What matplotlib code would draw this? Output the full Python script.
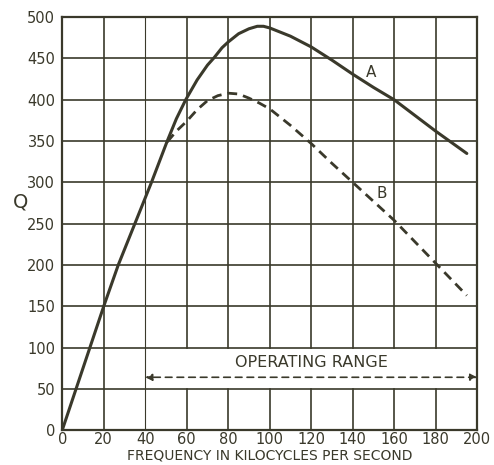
import numpy as np
import matplotlib.pyplot as plt

# curve A (solid) and curve B (dashed)
freq_a = [0, 20, 27, 35, 43, 50.6, 55, 59.5, 65, 70, 73.2, 77, 80, 85, 90,
          94, 97, 100, 110, 120, 130, 140, 150, 160, 170, 180, 195]
q_a = [0, 150, 200, 250, 300, 350, 377, 400, 424, 442, 451, 463, 470, 480, 486,
       489, 489, 487, 477, 464, 448, 431, 415, 400, 381, 362, 335]
freq_b = [50.6, 55, 60, 65, 70, 75, 80, 85, 90, 95, 100, 110, 120, 130, 140, 150, 160, 170, 180, 195]
q_b = [349, 362, 374, 388, 399, 405, 408, 407, 402, 396, 389, 369, 347, 323, 300, 277, 254, 228, 202, 163]

xticks = list(range(0, 201, 20))
yticks = list(range(0, 501, 50))
ink = '#3a392b'

plt.rcParams['font.family'] = 'DejaVu Sans'
fig = plt.figure(figsize=(4.94, 4.65), dpi=100)
ax = fig.add_axes([0.126, 0.075, 0.84, 0.888])
ax.set_xlim(0, 200)
ax.set_ylim(0, 500)

# grid, vertical lines broken where the operating range box sits
for y in yticks:
    ax.axhline(y, color=ink, lw=1.2, zorder=1)
for x in xticks:
    if 40 < x < 200:
        ax.plot([x, x], [0, 50], color=ink, lw=1.2, zorder=1)
        ax.plot([x, x], [100, 500], color=ink, lw=1.2, zorder=1)
    else:
        ax.axvline(x, color=ink, lw=1.2 if x != 40 else 0.8, zorder=1)

ax.plot(freq_a, q_a, color=ink, lw=2.2, zorder=3, solid_capstyle='round')
ax.plot(freq_b, q_b, color=ink, lw=2.0, ls=(0, (3.5, 2.2)), zorder=3)

ax.text(149, 433, 'A', fontsize=11, color=ink, ha='center', va='center')
ax.text(154, 287, 'B', fontsize=11, color=ink, ha='center', va='center')

ax.text(120, 82, 'OPERATING RANGE', fontsize=11.5, color=ink, ha='center', va='center')
ax.annotate('', xy=(40, 64), xytext=(200, 64),
            arrowprops=dict(arrowstyle='<|-|>', color=ink, lw=1.2, ls=(0, (4, 3)),
                            shrinkA=0, shrinkB=0, mutation_scale=10))

for s in ax.spines.values():
    s.set_color(ink)
    s.set_linewidth(1.6)

ax.set_xticks(xticks)
ax.set_yticks(yticks)
ax.tick_params(length=0, labelsize=10.5, colors=ink)
ax.tick_params(axis='x', pad=1)
ax.tick_params(axis='y', pad=5)
ax.set_xlabel('FREQUENCY IN KILOCYCLES PER SECOND', fontsize=10, color=ink, va='center')
ax.xaxis.set_label_coords(0.5, -0.062)
ax.set_ylabel('Q', fontsize=14, color=ink, rotation=0)
ax.yaxis.set_label_coords(-0.1, 0.53)

fig.savefig('out.png', dpi=100)
